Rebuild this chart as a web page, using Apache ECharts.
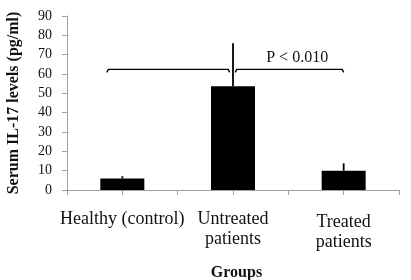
<!DOCTYPE html>
<html>
<head>
<meta charset="utf-8">
<script src="https://cdn.jsdelivr.net/npm/echarts@6/dist/echarts.min.js"></script>
<style>
  html, body { margin: 0; padding: 0; background: #fff; }
  #chart { width: 411px; height: 280px; }
</style>
</head>
<body>
<div id="chart"></div>
<script>
  const categories = ['Healthy (control)', 'Untreated\npatients', 'Treated\npatients'];
  const categoryPos = [0.5, 1.5, 2.5];
  const means = [6.0, 53.6, 10.0];
  const errors = [1.1, 22.3, 3.8];
  const yTicks = [0, 10, 20, 30, 40, 50, 60, 70, 80, 90];
  const bracketSpans = [[0.36, 1.47], [1.52, 2.5]];
  const bracketLevel = 62.4;
  const pLabel = 'P < 0.010';
  const pLabelX = 2.08;

  const chart = echarts.init(document.getElementById('chart'));
  const serif = '"Liberation Serif", "Times New Roman", serif';
  const axisGray = '#a0a0a0';

  function labelFor(value) {
    const idx = categoryPos.findIndex((p) => Math.abs(p - value) < 1e-6);
    if (idx < 0) return '';
    if (idx === 2) return '{shift|' + categories[idx].split('\n').join('}\n{shift|') + '}';
    return categories[idx];
  }

  const option = {
    animation: false,
    backgroundColor: '#fff',
    grid: { left: 67, right: 12, top: 16, bottom: 90, containLabel: false, outerBoundsMode: 'none' },
    xAxis: {
      type: 'value',
      min: 0,
      max: 3,
      interval: 0.5,
      name: 'Groups',
      nameLocation: 'middle',
      nameGap: 75,
      nameTextStyle: { fontFamily: serif, fontWeight: 'bold', fontSize: 16, color: '#111', padding: [0, 0, 0, 7] },
      splitLine: { show: false },
      axisLine: { lineStyle: { color: axisGray, width: 1 } },
      axisTick: { show: true, length: 5, lineStyle: { color: axisGray } },
      axisLabel: {
        margin: 19,
        fontFamily: serif,
        fontSize: 18,
        lineHeight: 20,
        color: '#111',
        showMinLabel: true,
        showMaxLabel: true,
        formatter: labelFor,
        rich: {
          shift: { fontFamily: serif, fontSize: 18, lineHeight: 20, color: '#111', padding: [7, 0, 0, 0] },
        },
      },
    },
    yAxis: {
      type: 'value',
      min: yTicks[0],
      max: yTicks[yTicks.length - 1],
      interval: 10,
      name: 'Serum IL-17 levels (pg/ml)',
      nameLocation: 'middle',
      nameGap: 45,
      nameTextStyle: { fontFamily: serif, fontWeight: 'bold', fontSize: 16, color: '#111' },
      splitLine: { show: false },
      axisLine: { show: true, lineStyle: { color: axisGray, width: 1 } },
      axisTick: { show: true, length: 5, lineStyle: { color: axisGray } },
      axisLabel: { fontFamily: serif, fontSize: 14, color: '#111', margin: 15 },
    },
    series: [
      {
        type: 'bar',
        data: categoryPos.map((x, i) => [x, means[i]]),
        barWidth: 44,
        itemStyle: { color: '#000' },
        z: 2,
      },
      {
        type: 'custom',
        data: categoryPos.map((x, i) => [x, means[i], means[i] + errors[i]]),
        renderItem: (params, api) => {
          const a = api.coord([api.value(0), api.value(1)]);
          const b = api.coord([api.value(0), api.value(2)]);
          return {
            type: 'line',
            shape: { x1: a[0], y1: a[1], x2: b[0], y2: b[1] },
            style: { stroke: '#000', lineWidth: 1.8 },
          };
        },
        z: 3,
      },
      {
        type: 'custom',
        data: bracketSpans.map((s) => [s[0], s[1], bracketLevel]),
        renderItem: (params, api) => {
          const a = api.coord([api.value(0), api.value(2)]);
          const b = api.coord([api.value(1), api.value(2)]);
          const children = [{
            type: 'polyline',
            shape: { points: [[a[0], a[1] + 3], [a[0] + 1.5, a[1]], [b[0] - 1.5, b[1]], [b[0], b[1] + 3]] },
            style: { stroke: '#000', fill: null, lineWidth: 1.4 },
          }];
          if (params.dataIndex === 1) {
            const t = api.coord([pLabelX, api.value(2)]);
            children.push({
              type: 'text',
              style: {
                text: pLabel,
                x: t[0],
                y: t[1] - 4,
                align: 'center',
                verticalAlign: 'bottom',
                font: '16px ' + serif,
                fill: '#111',
              },
            });
          }
          return { type: 'group', children };
        },
        z: 3,
      },
    ],
  };

  chart.setOption(option);
  window.addEventListener('resize', () => chart.resize());
</script>
</body>
</html>
